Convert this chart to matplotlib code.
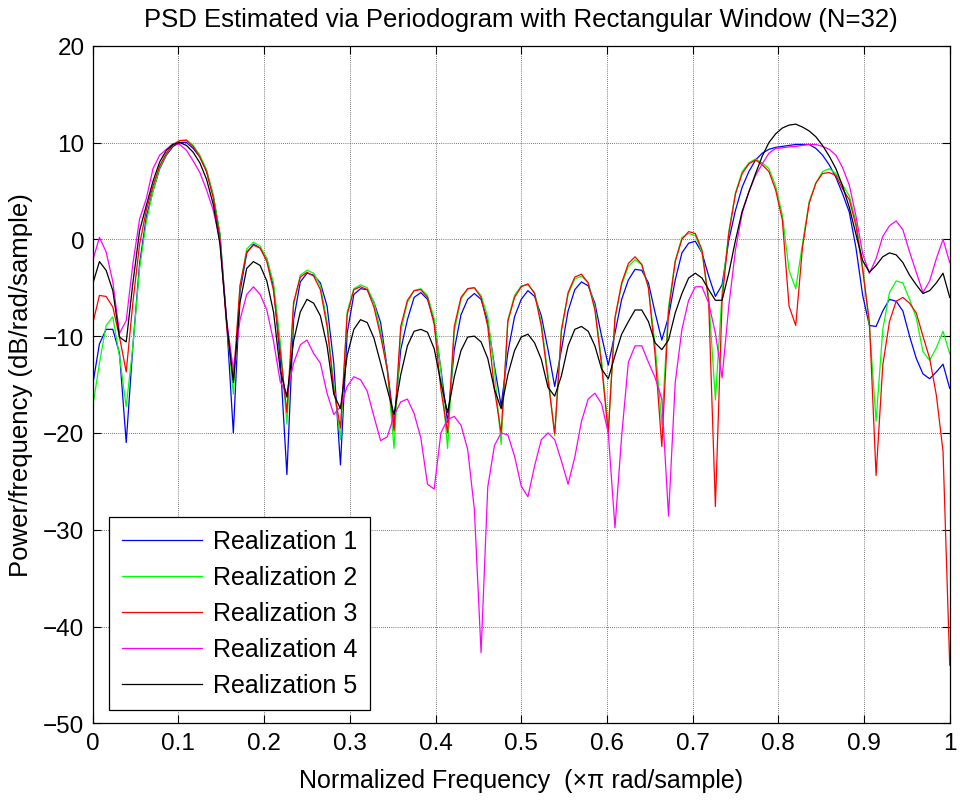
import numpy as np
import matplotlib
matplotlib.use('Agg')
from matplotlib import pyplot as plt

plt.rcParams['font.family'] = ['Liberation Sans', 'DejaVu Sans']

# periodogram bins, 0..pi normalized (nfft = 256)
freq = np.linspace(0, 1, 129)

labels = ['Realization 1', 'Realization 2', 'Realization 3', 'Realization 4', 'Realization 5']
colors = ['#0000ff', '#00ff00', '#ff0000', '#ff00ff', '#000000']

real1 = [-15.0, -10.8, -9.3, -9.3, -11.8, -21.0, -11.0, -2.5, 2.3, 5.0,
         7.3, 8.7, 9.6, 10.0, 10.0, 9.4, 8.5, 7.0, 4.5, 0.5,
         -8.5, -20.0, -5.4, -1.4, -0.5, -0.9, -2.0, -4.9, -12.4, -24.3,
         -8.3, -4.4, -3.5, -3.7, -4.5, -6.9, -12.8, -23.3, -9.7, -5.7,
         -5.1, -5.2, -6.5, -8.6, -13.4, -19.0, -11.4, -8.3, -6.0, -5.5,
         -6.2, -8.5, -13.4, -18.9, -11.4, -7.8, -6.2, -5.6, -6.2, -8.5,
         -13.1, -17.2, -11.7, -8.0, -6.2, -5.3, -5.9, -7.9, -11.4, -15.2,
         -11.4, -7.4, -5.2, -4.4, -4.8, -6.6, -10.0, -13.0, -9.7, -6.2,
         -4.2, -3.1, -3.2, -4.5, -7.6, -10.4, -8.0, -4.2, -1.4, -0.4,
         -0.2, -1.4, -3.8, -5.9, -4.7, -0.1, 3.0, 5.4, 7.0, 8.2,
         8.9, 9.3, 9.5, 9.6, 9.7, 9.8, 9.8, 9.8, 9.4, 8.7,
         7.7, 6.4, 4.7, 2.8, -0.9, -5.8, -8.9, -9.0, -7.4, -6.2,
         -6.4, -7.4, -10.0, -12.3, -13.9, -14.4, -13.7, -12.9, -15.4]

real2 = [-17.3, -12.8, -8.9, -8.0, -12.1, -17.3, -11.0, -3.0, 1.8, 5.0,
         7.4, 8.8, 9.8, 10.2, 10.3, 9.7, 8.7, 7.2, 4.6, 0.6,
         -8.5, -16.0, -4.8, -1.0, -0.3, -0.7, -2.0, -4.5, -10.5, -19.1,
         -6.8, -3.7, -3.2, -3.5, -4.8, -8.5, -15.0, -20.7, -7.5, -5.1,
         -4.7, -5.0, -6.5, -9.5, -13.5, -21.6, -9.5, -6.5, -5.3, -5.1,
         -5.8, -8.2, -13.5, -21.6, -9.5, -6.2, -5.1, -5.0, -5.8, -8.0,
         -13.5, -21.2, -8.3, -5.8, -4.8, -4.7, -5.5, -8.6, -14.0, -20.3,
         -9.2, -5.7, -4.1, -3.8, -4.5, -7.0, -12.5, -19.8, -8.2, -4.7,
         -2.8, -2.1, -2.6, -5.0, -11.0, -19.1, -7.0, -2.2, 0.2, 0.6,
         0.4, -1.4, -6.0, -16.6, -5.5, 0.8, 4.8, 7.0, 7.9, 8.3,
         7.9, 7.3, 5.5, 2.5, -3.2, -5.1, -0.5, 3.9, 5.8, 7.0,
         7.3, 6.8, 5.6, 4.5, 1.8, -2.8, -8.9, -18.8, -9.3, -5.5,
         -4.3, -4.5, -6.2, -8.1, -11.6, -12.5, -11.2, -9.5, -11.8]

real3 = [-8.7, -5.8, -5.9, -7.0, -10.1, -13.7, -6.5, -0.5, 3.0, 5.5,
         7.6, 8.9, 9.8, 10.2, 10.2, 9.6, 8.5, 7.0, 4.3, 0.2,
         -9.0, -14.5, -4.8, -1.3, -0.6, -0.9, -2.3, -5.3, -11.5, -17.9,
         -6.5, -3.9, -3.4, -3.8, -5.2, -9.0, -15.5, -19.5, -7.8, -5.2,
         -4.9, -5.2, -7.0, -10.0, -13.5, -19.8, -9.0, -6.3, -5.3, -5.2,
         -6.0, -8.8, -15.5, -20.0, -9.0, -6.0, -5.1, -5.0, -6.0, -9.0,
         -15.5, -20.0, -8.5, -6.0, -4.9, -4.6, -5.6, -9.0, -14.5, -20.1,
         -9.5, -5.5, -3.9, -3.6, -4.5, -7.3, -13.0, -20.0, -8.1, -4.5,
         -2.5, -1.8, -2.6, -5.0, -12.0, -21.4, -7.5, -2.3, 0.0, 0.8,
         0.6, -1.1, -6.5, -27.6, -6.3, 0.6, 4.7, 6.8, 7.8, 8.2,
         7.7, 7.0, 5.1, 2.0, -6.9, -8.9, -0.9, 3.7, 5.8, 6.8,
         6.9, 6.6, 5.2, 4.1, 1.4, -3.2, -8.5, -24.4, -13.0, -8.5,
         -6.4, -6.0, -6.6, -7.6, -10.0, -12.3, -16.1, -21.9, -44.0]

real4 = [-2.2, 0.2, -1.3, -4.4, -9.7, -8.4, -2.5, 2.1, 4.2, 7.3,
         8.7, 9.3, 9.9, 9.8, 9.2, 8.1, 6.9, 5.1, 3.0, -0.1,
         -8.4, -13.5, -8.3, -5.7, -4.9, -5.7, -7.3, -10.5, -14.7, -16.0,
         -12.8, -10.9, -10.4, -11.8, -12.8, -15.9, -18.1, -17.3, -15.2, -14.2,
         -14.5, -15.7, -18.3, -20.8, -20.4, -18.2, -16.8, -16.5, -18.0, -20.5,
         -25.3, -25.8, -20.0, -18.6, -18.3, -19.2, -21.7, -27.9, -42.7, -25.6,
         -21.3, -20.0, -20.2, -22.4, -25.5, -26.6, -23.4, -20.7, -20.0, -20.7,
         -22.9, -25.3, -22.5, -18.8, -16.5, -15.9, -17.0, -20.0, -29.8, -20.3,
         -12.7, -11.0, -11.0, -12.7, -14.3, -16.5, -28.6, -14.8, -9.3, -6.3,
         -4.9, -4.9, -6.6, -9.7, -14.3, -6.9, -1.1, 2.7, 4.9, 6.6,
         7.8, 8.9, 9.4, 9.45, 9.55, 9.6, 9.7, 9.8, 9.8, 9.6,
         9.3, 8.7, 7.4, 5.6, 2.4, -1.5, -3.5, -2.0, 0.3, 1.4,
         1.9, 1.0, -1.3, -3.4, -5.5, -4.3, -2.0, 0.0, -2.4]

real5 = [-4.6, -2.3, -3.2, -5.3, -10.1, -10.6, -4.5, 0.9, 3.5, 6.0,
         8.0, 9.2, 9.8, 10.0, 9.7, 9.0, 7.9, 6.2, 3.6, -0.5,
         -8.5, -14.8, -6.5, -3.0, -2.3, -2.7, -4.3, -7.5, -13.5, -16.3,
         -10.5, -7.5, -6.2, -6.6, -7.9, -11.0, -16.0, -17.5, -12.0, -9.3,
         -8.3, -8.6, -10.2, -12.8, -15.5, -18.1, -14.0, -11.0, -9.5, -9.3,
         -9.6, -11.3, -14.8, -17.9, -14.2, -11.5, -10.1, -10.0, -10.6, -12.3,
         -15.5, -17.5, -14.0, -11.5, -10.1, -9.8, -10.7, -12.4, -15.3, -16.2,
         -14.1, -11.0, -9.3, -9.0, -9.5, -11.0, -13.4, -14.4, -12.0, -9.8,
         -8.5, -7.3, -7.3, -8.5, -10.7, -11.4, -10.4, -7.6, -5.6, -4.0,
         -3.5, -4.0, -5.2, -6.3, -6.3, -3.5, -0.1, 2.9, 4.9, 6.8,
         8.6, 10.0, 10.9, 11.5, 11.8, 11.9, 11.6, 11.2, 10.6, 9.7,
         8.6, 7.3, 5.5, 3.3, 0.5, -2.2, -3.4, -2.7, -1.8, -1.4,
         -1.6, -2.4, -3.7, -4.7, -5.6, -5.3, -4.5, -3.5, -6.0]

series = [real1, real2, real3, real4, real5]

fig = plt.figure(figsize=(9.6, 8.03), dpi=100)
ax = fig.add_axes([0.0966, 0.098, 0.8927, 0.8438])

for vals, c, lab in zip(series, colors, labels):
    ax.plot(freq, vals, color=c, lw=0.9, label=lab)

ax.set_xlim(0, 1)
ax.set_ylim(-50, 20)
ax.set_xticks(np.arange(0, 1.01, 0.1))
ax.set_xticklabels(['0', '0.1', '0.2', '0.3', '0.4', '0.5', '0.6', '0.7', '0.8', '0.9', '1'])
ax.set_yticks(np.arange(-50, 21, 10))

ax.grid(True, color='black', linestyle=(0, (1, 2)), linewidth=0.5)
ax.tick_params(direction='in', length=6, width=0.8, top=True, right=True,
               labelsize=17.5, pad=6)
for s in ax.spines.values():
    s.set_linewidth(0.9)

ax.set_title('PSD Estimated via Periodogram with Rectangular Window (N=32)',
             fontsize=18.5, pad=14)
ax.set_xlabel('Normalized Frequency  (\u00d7\u03c0 rad/sample)', fontsize=18, labelpad=10)
ax.set_ylabel('Power/frequency (dB/rad/sample)', fontsize=18.5, labelpad=7)

leg = ax.legend(loc='lower left', bbox_to_anchor=(0.019, 0.020), borderaxespad=0,
                fontsize=18, handlelength=3.2, handletextpad=0.45,
                labelspacing=0.48, borderpad=0.5, fancybox=False,
                edgecolor='black', framealpha=1)
leg.get_frame().set_linewidth(0.9)

plt.savefig('out.png', dpi=100)
